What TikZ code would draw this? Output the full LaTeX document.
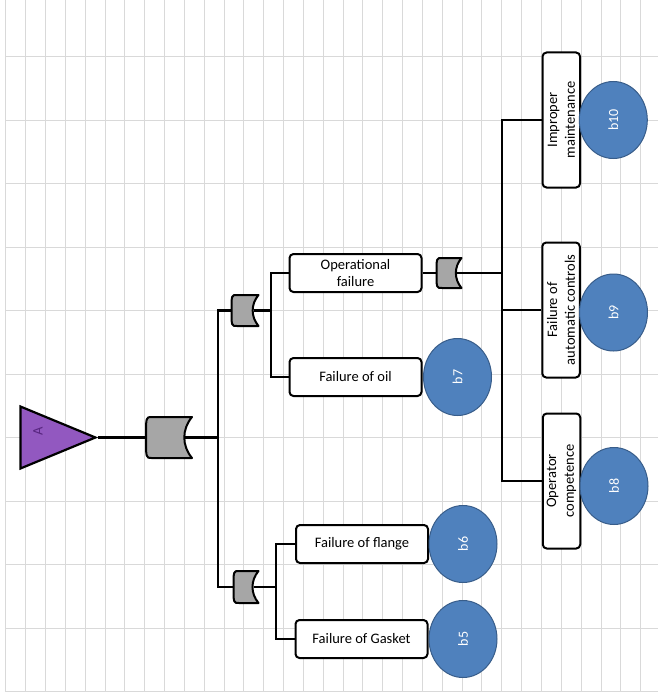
\documentclass[tikz,border=0pt]{standalone}
\usepackage{fontspec}
\setmainfont{Carlito}
\usetikzlibrary{shapes.geometric, calc, positioning}

\definecolor{gridgray}{RGB}{217,217,217}
\definecolor{topviolet}{RGB}{146,88,192}
\definecolor{violettext}{RGB}{88,38,128}
\definecolor{gategray}{RGB}{166,166,166}
\definecolor{evtblue}{RGB}{79,129,189}
\definecolor{evtline}{RGB}{56,93,138}

% OR gate drawn on a named (invisible) node, output on the left
\newcommand{\orgate}[1]{%
  \draw[gateline] (#1.north east) -- ([xshift=5.5pt]#1.north west)
    .. controls (#1.north west) .. (#1.west)
    .. controls (#1.south west) .. ([xshift=5.5pt]#1.south west)
    -- (#1.south east) to[bend left=40] (#1.north east) -- cycle;
  \coordinate (#1-in) at ($(#1.east)!0.18!(#1.west)$);}

\begin{document}
\begin{tikzpicture}[x=1pt, y=-1pt, font=\fontsize{14.5}{17.7}\selectfont,
    wire/.style={line width=2.2pt},
    event/.style={draw, line width=2pt, rounded corners=4pt, fill=white, align=center, inner sep=0pt, minimum width=132pt, minimum height=38pt},
    vevent/.style={event, rotate=90, minimum width=135pt, minimum height=37.5pt},
    gate/.style={inner sep=0pt, outer sep=0pt},
    gateline/.style={line width=2pt, fill=gategray, line join=round},
    basic/.style={ellipse, draw=evtline, line width=1pt, fill=evtblue, text=white, rotate=90, minimum width=77pt, minimum height=68pt, inner sep=0pt, font=\fontsize{14}{16}\selectfont},
    ]

    \fill[white] (0,0) rectangle (658,698);
    \useasboundingbox (0,0) rectangle (658,698);

    % grid
    \foreach \i in {0,...,32}
      \draw[gridgray, line width=0.8pt] (5.7+19.84*\i, 0) -- (5.7+19.84*\i, 691.7);
    \foreach \j in {0,...,9}
      \draw[gridgray, line width=0.8pt] (5.7, 56.7+63.5*\j) -- (658, 56.7+63.5*\j);
    \draw[gridgray, line width=1.5pt] (5.7, 691.7) -- (658, 691.7);

    % top event
    \node[isosceles triangle, isosceles triangle stretches, draw, line width=2.2pt, fill=topviolet, minimum width=62pt, minimum height=75pt, inner sep=0pt, anchor=apex] (top) at (98.3, 437.5) {};
    \node[rotate=90, text=violettext] (toplab) at (38, 431) {A};

    % gates
    \node[gate, minimum width=46pt, minimum height=41pt] (g0) at (169, 437.5) {};
    \node[gate, minimum width=27pt, minimum height=31pt] (g1) at (245, 310.5) {};
    \node[gate, minimum width=25pt, minimum height=32pt] (g2) at (246, 587) {};
    \node[gate, minimum width=25pt, minimum height=30pt] (g3) at (449, 273) {};
    \orgate{g0}
    \orgate{g1}
    \orgate{g2}
    \orgate{g3}

    % events
    \node[event] (opf) at (355.5, 273) {Operational\\failure};
    \node[event] (oil) at (355.5, 377) {Failure of oil};
    \node[event] (flange) at (362, 544) {Failure of flange};
    \node[event] (gasket) at (361.5, 639) {Failure of Gasket};
    \node[vevent] (maint) at (561.3, 120) {Improper\\maintenance};
    \node[vevent] (autoc) at (561, 310) {Failure of\\automatic controls};
    \node[vevent] (oper) at (561.5, 481) {Operator\\competence};

    % basic events
    \node[basic] (b10) at ([xshift=52pt]maint.center) {b10};
    \node[basic] (b9) at (613.5, 312.5) {b9};
    \node[basic] (b8) at (614, 486) {b8};
    \node[basic] (b7) at ([xshift=102pt]oil.center) {b7};
    \node[basic] (b6) at ([xshift=101pt]flange.center) {b6};
    \node[basic] (b5) at ([xshift=101.5pt]gasket.center) {b5};

    % connectors
    \coordinate (bus0) at (218, 437.5);
    \coordinate (bus1) at (271, 310.5);
    \coordinate (bus2) at (276, 587);
    \coordinate (bus3) at (502, 273);
    \draw[wire] (top.apex) -- (g0.west);
    \draw[wire] (g0-in) -- (bus0);
    \draw[wire] (g1.west) -| (bus0) |- (g2.west);
    \draw[wire] (g1-in) -- (bus1);
    \draw[wire] (opf.west) -| (bus1) |- (oil.west);
    \draw[wire] (g2-in) -- (bus2);
    \draw[wire] (flange.west) -| (bus2) |- (gasket.west);
    \draw[wire] (opf.east) -- (g3.west);
    \draw[wire] (g3-in) -- (bus3);
    \draw[wire] (maint.north) -| (bus3) |- (oper.north);
    \draw[wire] (autoc.north) -- (autoc.north -| bus3);
  \end{tikzpicture}
\end{document}
